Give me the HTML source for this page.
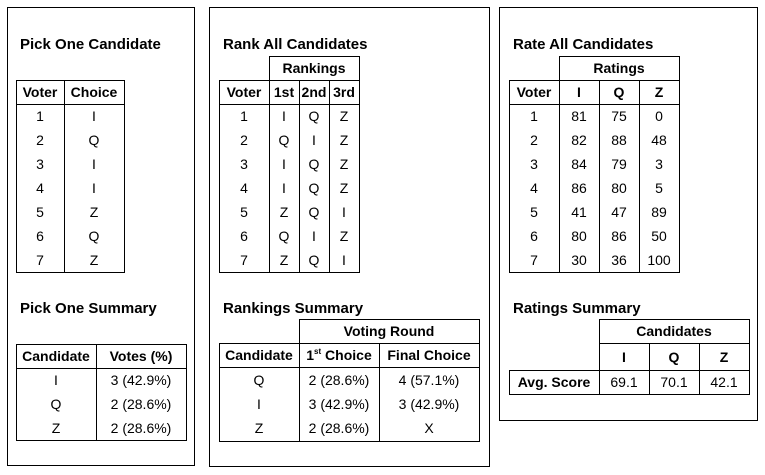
<!DOCTYPE html>
<html><head><meta charset="utf-8">
<style>
html,body{margin:0;padding:0;background:#fff;}
#root{position:relative;width:765px;height:475px;overflow:hidden;font-family:"Liberation Sans",sans-serif;font-size:14px;color:#000;}
.r{position:absolute;box-sizing:border-box;border:1px solid #000;}
.t{position:absolute;text-align:center;white-space:nowrap;line-height:24px;height:24px;}
.b{font-weight:bold;}
.title{position:absolute;font-weight:bold;font-size:15px;white-space:nowrap;}
sup{font-size:8px;vertical-align:6px;line-height:0;}
</style></head>
<body>
<div id="root"></div>
<script>
const voters=["1","2","3","4","5","6","7"];
const pickChoice=["I","Q","I","I","Z","Q","Z"];
const rank1=["I","Q","I","I","Z","Q","Z"];
const rank2=["Q","I","Q","Q","Q","I","Q"];
const rank3=["Z","Z","Z","Z","I","Z","I"];
const rateI=["81","82","84","86","41","80","30"];
const rateQ=["75","88","79","80","47","86","36"];
const rateZ=["0","48","3","5","89","50","100"];
const pickCands=["I","Q","Z"];
const pickVotes=["3 (42.9%)","2 (28.6%)","2 (28.6%)"];
const rankCands=["Q","I","Z"];
const rankFirst=["2 (28.6%)","3 (42.9%)","2 (28.6%)"];
const rankFinal=["4 (57.1%)","3 (42.9%)","X"];
const avgCands=["I","Q","Z"];
const avgScores=["69.1","70.1","42.1"];

const root=document.getElementById('root');
function rect(x1,y1,x2,y2,name){
  const d=document.createElement('div');d.className='r';
  d.style.left=x1+'px';d.style.top=y1+'px';d.style.width=(x2-x1+1)+'px';d.style.height=(y2-y1+1)+'px';
  
  
  root.appendChild(d);return d;
}
function txt(x1,x2,y,s,bold,name){
  const d=document.createElement('div');d.className='t'+(bold?' b':'');
  d.style.left=x1+'px';d.style.width=(x2-x1)+'px';d.style.top=y+'px';d.innerHTML=s;
  
  
  root.appendChild(d);return d;
}
function title(x,y,s,name){
  const d=document.createElement('div');d.className='title';
  d.style.left=x+'px';d.style.top=y+'px';d.textContent=s;
  
  
  root.appendChild(d);
}
rect(7,7,194,465,'pick-one-panel');
rect(209,7,489,466,'rank-all-panel');
rect(499,7,757,420,'rate-all-panel');

// Panel 1
title(20,36,'Pick One Candidate','pick-one-title');
rect(16,80,64,104,'header-cell');rect(64,80,124,104,'header-cell');
txt(16,64,80,'Voter',true,'voter-header');txt(64,124,80,'Choice',true,'choice-header');
rect(16,104,64,272,'voter-column');rect(64,104,124,272,'choice-column');
voters.forEach((v,i)=>{txt(16,64,104+i*24,v,false,'voter-number');txt(64,124,104+i*24,pickChoice[i],false,'choice-cell');});
title(20,300,'Pick One Summary','pick-one-summary-title');
rect(16,344,96,368,'header-cell');rect(96,344,186,368,'header-cell');
txt(16,96,344,'Candidate',true,'candidate-header');txt(96,186,344,'Votes (%)',true,'votes-header');
rect(16,368,96,440,'candidate-column');rect(96,368,186,440,'votes-column');
pickCands.forEach((c,i)=>{txt(16,96,368+i*24,c,false,'candidate-cell');txt(96,186,368+i*24,pickVotes[i],false,'votes-cell');});

// Panel 2
title(223,36,'Rank All Candidates','rank-all-title');
rect(269,56,359,80,'rankings-group-header');txt(269,359,56,'Rankings',true,'rankings-header');
const c2=[219,269,299,329,359];const h2=['Voter','1st','2nd','3rd'];
for(let k=0;k<4;k++){rect(c2[k],80,c2[k+1],104,'header-cell');txt(c2[k],c2[k+1],80,h2[k],true,'rank-header');rect(c2[k],104,c2[k+1],272,'rank-column');}
voters.forEach((v,i)=>{const y=104+i*24;
  txt(219,269,y,v,false,'voter-number');txt(269,299,y,rank1[i],false,'rank1-cell');
  txt(299,329,y,rank2[i],false,'rank2-cell');txt(329,359,y,rank3[i],false,'rank3-cell');});
title(223,300,'Rankings Summary','rankings-summary-title');
rect(299,319,479,343,'voting-round-group-header');txt(299,479,319,'Voting Round',true,'voting-round-header');
const c2s=[219,299,379,479];const h2s=['Candidate','1<sup>st</sup> Choice','Final Choice'];
for(let k=0;k<3;k++){rect(c2s[k],343,c2s[k+1],367,'header-cell');txt(c2s[k],c2s[k+1],343,h2s[k],true,'summary-header');rect(c2s[k],367,c2s[k+1],441,'summary-column');}
rankCands.forEach((c,i)=>{const y=368+i*24;
  txt(219,299,y,c,false,'candidate-cell');txt(299,379,y,rankFirst[i],false,'first-choice-cell');txt(379,479,y,rankFinal[i],false,'final-choice-cell');});

// Panel 3
title(513,36,'Rate All Candidates','rate-all-title');
rect(559,56,679,80,'ratings-group-header');txt(559,679,56,'Ratings',true,'ratings-header');
const c3=[509,559,599,639,679];const h3=['Voter','I','Q','Z'];
for(let k=0;k<4;k++){rect(c3[k],80,c3[k+1],104,'header-cell');txt(c3[k],c3[k+1],80,h3[k],true,'rating-header');rect(c3[k],104,c3[k+1],272,'rating-column');}
voters.forEach((v,i)=>{const y=104+i*24;
  txt(509,559,y,v,false,'voter-number');txt(559,599,y,rateI[i],false,'rating-i-cell');
  txt(599,639,y,rateQ[i],false,'rating-q-cell');txt(639,679,y,rateZ[i],false,'rating-z-cell');});
title(513,300,'Ratings Summary','ratings-summary-title');
rect(599,319,749,343,'candidates-group-header');txt(599,749,319,'Candidates',true,'candidates-header');
const c3s=[599,649,699,749];
for(let k=0;k<3;k++){rect(c3s[k],343,c3s[k+1],370,'header-cell');txt(c3s[k],c3s[k+1],345,avgCands[k],true,'candidate-header');
  rect(c3s[k],370,c3s[k+1],394,'score-cell-box');txt(c3s[k],c3s[k+1],370,avgScores[k],false,'avg-score-cell');}
rect(509,370,599,394,'avg-score-label-box');txt(509,599,370,'Avg. Score',true,'avg-score-label');
</script>
</body></html>
